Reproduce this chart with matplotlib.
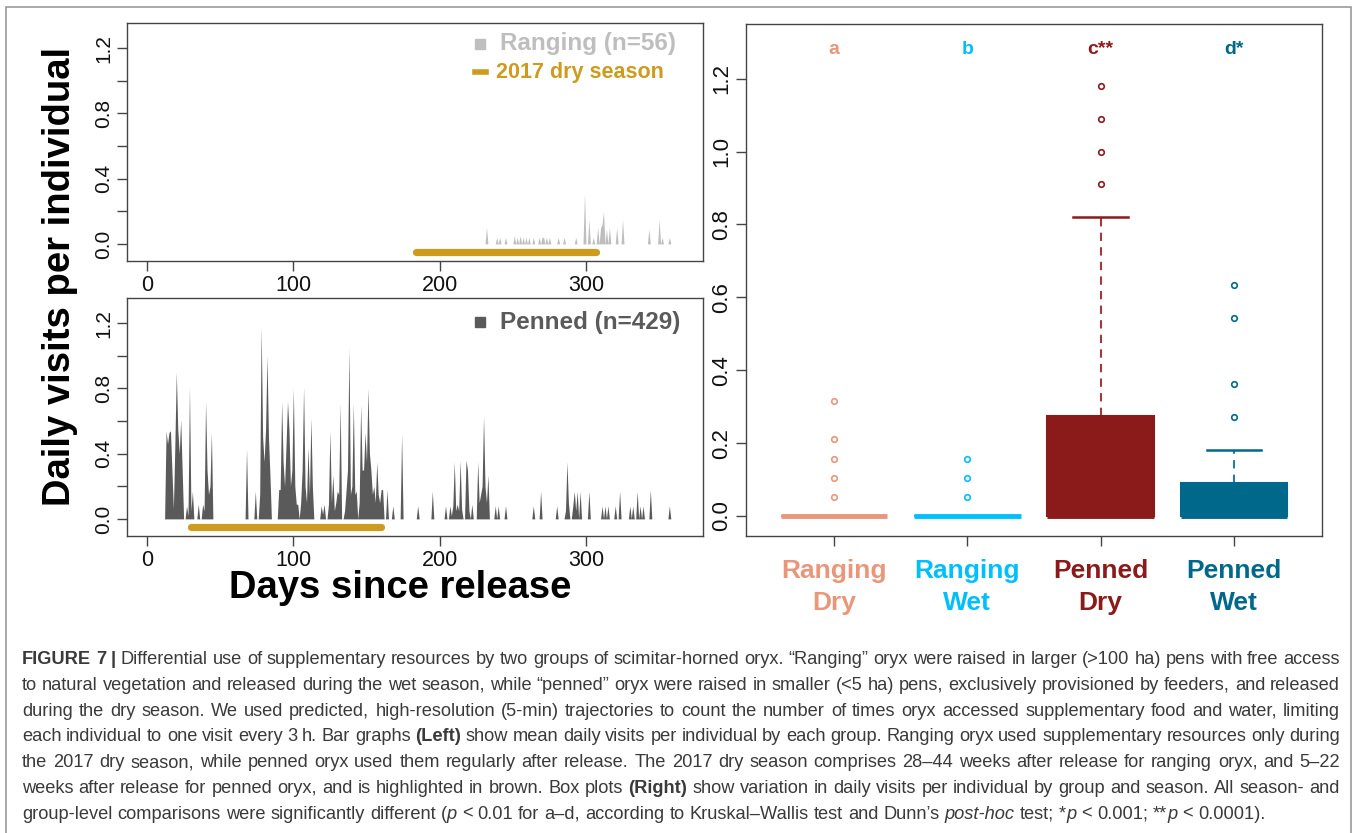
import matplotlib
matplotlib.use('Agg')
import matplotlib.pyplot as plt
import matplotlib.transforms as mtransforms
from matplotlib.patches import Rectangle
import numpy as np

plt.rcParams['font.family'] = ['Liberation Sans', 'DejaVu Sans']

# ---------------- data ----------------
n_days = 365

# mean daily visits per individual, ranging group (only non-zero days)
ranging_days = [232, 239, 241, 245, 251, 253, 255, 257, 259, 261, 264, 268, 270, 271,
                273, 275, 281, 285, 293, 299, 302, 305, 308, 310, 311, 312, 314, 316,
                321, 325, 343, 350, 352, 357]
ranging_visits = [0.10, 0.04, 0.04, 0.04, 0.05, 0.04, 0.05, 0.04, 0.04, 0.04, 0.04, 0.04, 0.04, 0.04,
                  0.04, 0.04, 0.04, 0.04, 0.04, 0.31, 0.15, 0.04, 0.10, 0.10, 0.12, 0.20, 0.09, 0.10,
                  0.10, 0.15, 0.09, 0.15, 0.04, 0.04]

# mean daily visits per individual, penned group (only non-zero days)
penned_days = [13, 14, 15, 16, 17, 18, 19, 20, 21, 22, 23, 24,
               27, 28, 29, 30, 31, 35, 38, 39, 40, 41, 42, 43, 44,
               68, 74, 77, 78, 79, 80, 81, 82, 83, 84,
               90, 91, 92, 93, 94, 95, 96, 97, 98, 99, 100, 101, 102, 103,
               105, 106, 107, 108, 109, 110, 111, 112, 113, 119, 120, 121,
               124, 125, 126, 127, 128, 129, 130, 131, 132,
               135, 136, 137, 138, 139, 140, 141, 142, 143,
               145, 146, 147, 148, 149, 150, 151, 152, 153, 154,
               155, 156, 157, 158, 159, 160, 161, 164, 168, 174, 185, 195,
               204, 207, 208, 209, 210, 211, 212, 213, 214, 215, 218, 219, 220, 222,
               226, 227, 228, 229, 230, 231, 232, 233, 238, 240, 245, 264, 269,
               280, 286, 287, 288, 291, 292, 293, 294, 296, 302,
               311, 313, 315, 320, 323, 330, 332, 335, 337, 339, 344, 357]
penned_visits = [0.54, 0.46, 0.53, 0.54, 0.30, 0.06, 0.45, 0.90, 0.55, 0.40, 0.61, 0.30,
                 0.08, 0.02, 0.81, 0.05, 0.17, 0.09, 0.09, 0.05, 0.72, 0.30, 0.15, 0.20, 0.53,
                 0.43, 0.17, 0.15, 1.18, 0.50, 0.35, 0.55, 1.00, 0.50, 0.27,
                 0.18, 0.18, 0.72, 0.35, 0.20, 0.45, 0.72, 0.55, 0.20, 0.30, 0.80, 0.20, 0.09, 0.09,
                 0.10, 0.30, 0.81, 0.20, 0.10, 0.44, 0.15, 0.62, 0.20, 0.08, 0.03, 0.09,
                 0.09, 0.54, 0.10, 0.27, 0.05, 0.10, 0.17, 0.15, 0.71,
                 0.05, 0.17, 0.30, 1.05, 0.15, 0.20, 0.71, 0.15, 0.17,
                 0.10, 0.70, 0.30, 0.30, 0.53, 0.35, 0.80, 0.40, 0.30, 0.15,
                 0.20, 0.10, 0.35, 0.15, 0.10, 0.18, 0.18, 0.18, 0.08, 0.52, 0.08, 0.17,
                 0.08, 0.08, 0.02, 0.08, 0.35, 0.05, 0.09, 0.05, 0.36, 0.06, 0.36, 0.30, 0.05, 0.09,
                 0.35, 0.10, 0.15, 0.20, 0.63, 0.20, 0.10, 0.27, 0.08, 0.08, 0.08, 0.08, 0.17,
                 0.08, 0.05, 0.35, 0.10, 0.08, 0.17, 0.05, 0.17, 0.17, 0.17,
                 0.08, 0.08, 0.08, 0.08, 0.17, 0.08, 0.08, 0.17, 0.08, 0.08, 0.18, 0.08]

# 2017 dry season, days since release
ranging_dry_season = [184, 307]
penned_dry_season = [30, 160]

# box plot summaries (daily visits per individual)
group_names = [('Ranging', 'Dry'), ('Ranging', 'Wet'), ('Penned', 'Dry'), ('Penned', 'Wet')]
group_letters = ['a', 'b', 'c**', 'd*']
box_q1 = [0.0, 0.0, 0.0, 0.0]
box_med = [0.0, 0.0, 0.0, 0.0]
box_q3 = [0.0, 0.0, 0.275, 0.09]
whisker_lo = [0.0, 0.0, 0.0, 0.0]
whisker_hi = [0.0, 0.0, 0.82, 0.181]
outliers = [[0.052, 0.104, 0.157, 0.21, 0.315],
            [0.052, 0.104, 0.157],
            [0.91, 1.0, 1.09, 1.18],
            [0.271, 0.363, 0.544, 0.635]]

caption_lines = [
    [('FIGURE 7 |', 'b'), (' Differential use of supplementary resources by two groups of scimitar-horned oryx. \u201cRanging\u201d oryx were raised in larger (>100 ha) pens with free access', 'n')],
    [('to natural vegetation and released during the wet season, while \u201cpenned\u201d oryx were raised in smaller (<5 ha) pens, exclusively provisioned by feeders, and released', 'n')],
    [('during the dry season. We used predicted, high-resolution (5-min) trajectories to count the number of times oryx accessed supplementary food and water, limiting', 'n')],
    [('each individual to one visit every 3 h. Bar graphs ', 'n'), ('(Left)', 'b'), (' show mean daily visits per individual by each group. Ranging oryx used supplementary resources only during', 'n')],
    [('the 2017 dry season, while penned oryx used them regularly after release. The 2017 dry season comprises 28\u201344 weeks after release for ranging oryx, and 5\u201322', 'n')],
    [('weeks after release for penned oryx, and is highlighted in brown. Box plots ', 'n'), ('(Right)', 'b'), (' show variation in daily visits per individual by group and season. All season- and', 'n')],
    [('group-level comparisons were significantly different (', 'n'), ('p', 'i'), (' < 0.01 for a\u2013d, according to Kruskal\u2013Wallis test and Dunn\u2019s ', 'n'),
     ('post-hoc', 'i'), (' test; *', 'n'), ('p', 'i'), (' < 0.001; **', 'n'), ('p', 'i'), (' < 0.0001).', 'n')],
]

# ---------------- colours ----------------
gold = '#CD9B1D'
ranging_col = '#BEBEBE'
penned_col = '#5A5A5A'
group_colors = ['#E9967A', '#00BFFF', '#8B1A1A', '#00688B']
axis_col = '#444444'

W, H = 1358, 833
fig = plt.figure(figsize=(W / 100, H / 100), dpi=100, facecolor='white')


def fx(x):
    return x / W


def fy(y):
    return 1 - y / H


def px_axes(l, t, r, b):
    return fig.add_axes([fx(l), fy(b), (r - l) / W, (b - t) / H])


def style_axes(ax, ysize):
    for s in ax.spines.values():
        s.set_color(axis_col)
        s.set_linewidth(1.0)
    ax.tick_params(axis='both', direction='out', length=7, width=1, color=axis_col,
                   labelcolor='#111111')
    ax.tick_params(axis='x', labelsize=15.5, pad=3)
    ax.tick_params(axis='y', labelsize=ysize, pad=3)
    plt.setp(ax.get_yticklabels(), rotation=90, va='center')


ax_r = px_axes(127, 23, 703, 261)
ax_p = px_axes(127, 298, 703, 536)
ax_b = px_axes(746, 24, 1322, 536)

days = np.arange(1, n_days + 1)


def daily(d, v):
    s = np.zeros(n_days)
    s[np.array(d) - 1] = v
    return s


for ax, d, v, col, season in [(ax_r, ranging_days, ranging_visits, ranging_col, ranging_dry_season),
                              (ax_p, penned_days, penned_visits, penned_col, penned_dry_season)]:
    ax.fill_between(days, daily(d, v), 0, color=col, linewidth=0)
    ax.plot(season, [-0.05, -0.05], color=gold, lw=5.2, solid_capstyle='round')
    ax.set_xlim(-13.7, 380)
    ax.set_ylim(-0.105, 1.355)
    ax.set_xticks([0, 100, 200, 300])
    ax.set_yticks(np.arange(0, 1.21, 0.2))
    ax.set_yticklabels(['0.0', '', '0.4', '', '0.8', '', '1.2'])
    style_axes(ax, 15)

# legends on the bar graphs
ax_r.plot([0.613], [0.912], 's', ms=7.5, color=ranging_col, transform=ax_r.transAxes)
ax_r.text(0.648, 0.912, 'Ranging (n=56)', transform=ax_r.transAxes, fontsize=17.5,
          fontweight='bold', color=ranging_col, va='center', ha='left')
ax_r.plot([0.604, 0.624], [0.794, 0.794], color=gold, lw=4, transform=ax_r.transAxes)
ax_r.text(0.641, 0.794, '2017 dry season', transform=ax_r.transAxes, fontsize=15.5,
          fontweight='bold', color=gold, va='center', ha='left')
ax_p.plot([0.613], [0.899], 's', ms=7.5, color=penned_col, transform=ax_p.transAxes)
ax_p.text(0.648, 0.899, 'Penned (n=429)', transform=ax_p.transAxes, fontsize=17.5,
          fontweight='bold', color=penned_col, va='center', ha='left')

fig.text(fx(60), fy(276), 'Daily visits per individual', rotation=90, fontsize=27.5,
         fontweight='bold', ha='center', va='center', color='black')
fig.text(fx(400), fy(588), 'Days since release', fontsize=27.5,
         fontweight='bold', ha='center', va='center', color='black')

# ---------------- box plots ----------------
stats = []
for i in range(4):
    stats.append(dict(med=box_med[i], q1=box_q1[i], q3=box_q3[i],
                      whislo=whisker_lo[i], whishi=whisker_hi[i], fliers=outliers[i]))
bp = ax_b.bxp(stats, positions=[1, 2, 3, 4], widths=0.8, capwidths=0.41,
              patch_artist=True, showfliers=True)
for i, c in enumerate(group_colors):
    bp['boxes'][i].set(facecolor=c, edgecolor=c, linewidth=1.5)
    bp['medians'][i].set(color=c, linewidth=3.5, solid_capstyle='butt')
    for w in bp['whiskers'][2 * i:2 * i + 2]:
        w.set(color=c, linestyle=(0, (4, 3)), linewidth=1.5, alpha=0.85)
    for cp in bp['caps'][2 * i:2 * i + 2]:
        cp.set(color=c, linewidth=1.8)
    bp['fliers'][i].set(marker='o', markerfacecolor='none', markeredgecolor=c,
                        markersize=4, markeredgewidth=1.2)

ax_b.set_xlim(0.34, 4.66)
ax_b.set_ylim(-0.055, 1.35)
ax_b.set_xticks([1, 2, 3, 4])
ax_b.set_xticklabels(['', '', '', ''])
ax_b.set_yticks(np.arange(0, 1.21, 0.2))
ax_b.set_yticklabels(['%.1f' % t for t in np.arange(0, 1.21, 0.2)])
style_axes(ax_b, 16)

blend = mtransforms.blended_transform_factory(ax_b.transData, ax_b.transAxes)
for i, c in enumerate(group_colors):
    ax_b.text(i + 1, 1.28, group_letters[i], color=c, fontsize=14, fontweight='bold',
              ha='center', va='center')
    ax_b.text(i + 1, -0.0685, group_names[i][0], transform=blend, color=c, fontsize=19,
              fontweight='bold', ha='center', va='center', clip_on=False)
    ax_b.text(i + 1, -0.131, group_names[i][1], transform=blend, color=c, fontsize=19,
              fontweight='bold', ha='center', va='center', clip_on=False)

# frame around the figure panel
fig.add_artist(Rectangle((fx(6), -0.01), fx(1351) - fx(6), fy(7) + 0.01,
                         transform=fig.transFigure, fill=False, ec='#9a9a9a', lw=1.2))

# ---------------- caption (justified) ----------------
renderer = fig.canvas.get_renderer()
style_kw = {'n': dict(fontweight='normal', fontstyle='normal'),
            'b': dict(fontweight='bold', fontstyle='normal'),
            'i': dict(fontweight='normal', fontstyle='italic')}


def line_words(segments):
    words = []
    new_word = True
    for text, st in segments:
        parts = text.split(' ')
        for k, p in enumerate(parts):
            if k > 0:
                new_word = True
            if p == '':
                continue
            if new_word or not words:
                words.append([(p, st)])
            else:
                words[-1].append((p, st))
            new_word = False
    return words


def piece_width(text, st, size):
    t = fig.text(0, 0, text, fontsize=size, **style_kw[st])
    w = t.get_window_extent(renderer).width
    t.remove()
    return w


def word_width(word, size):
    return sum(piece_width(p, st, size) for p, st in word)


base = 12.0
space_em = 0.278
last = line_words(caption_lines[-1])
nat = sum(word_width(w, base) for w in last) + (len(last) - 1) * space_em * base * 100 / 72
cap_size = base * (1266 - 22) / nat

x_left, x_right = 22, 1340
for li, segs in enumerate(caption_lines):
    words = line_words(segs)
    widths = [word_width(w, cap_size) for w in words]
    if li < len(caption_lines) - 1:
        gap = (x_right - x_left - sum(widths)) / (len(words) - 1)
    else:
        gap = space_em * cap_size * 100 / 72
    y = 664 + 25.8 * li
    x = x_left
    for w, ww in zip(words, widths):
        xx = x
        for p, st in w:
            fig.text(fx(xx), fy(y), p, fontsize=cap_size, color='#3a3a3a',
                     va='baseline', ha='left', **style_kw[st])
            xx += piece_width(p, st, cap_size)
        x += ww + gap

fig.savefig('out.png', dpi=100, facecolor='white')
